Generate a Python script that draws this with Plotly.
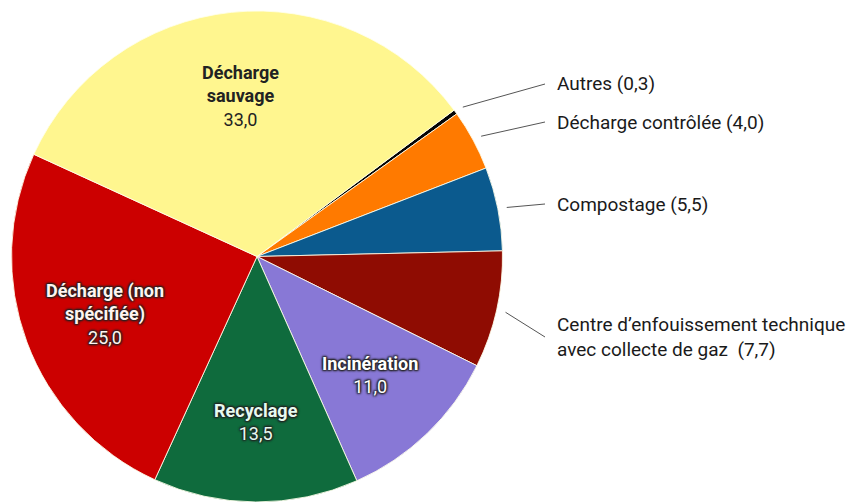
import math
import plotly.graph_objects as go

# ---- data ----
categories = [
    "Autres",
    "Décharge contrôlée",
    "Compostage",
    "Centre d’enfouissement technique avec collecte de gaz",
    "Incinération",
    "Recyclage",
    "Décharge (non spécifiée)",
    "Décharge sauvage",
]
values = [0.3, 4.0, 5.5, 7.7, 11.0, 13.5, 25.0, 33.0]
colors = ["#050505", "#ff7a00", "#0b5a8e", "#8f0c02", "#8878d6", "#0f6b3d", "#cc0000", "#fff68f"]

inside_labels = {
    4: "<b>Incinération</b><br>11,0",
    5: "<b>Recyclage</b><br>13,5",
    6: "<b>Décharge (non<br>spécifiée)</b><br>25,0",
    7: "<b>Décharge<br>sauvage</b><br>33,0",
}
inside_colors = {4: "#ffffff", 5: "#e6faf0", 6: "#fff4f0", 7: "#222222"}
outside_labels = {
    0: "Autres (0,3)",
    1: "Décharge contrôlée (4,0)",
    2: "Compostage (5,5)",
    3: "Centre d’enfouissement technique<br>avec collecte de gaz  (7,7)",
}
outside_text_pos = {0: (555, 84), 1: (555, 122), 2: (555, 204), 3: (555, 337)}

# ---- geometry ----
W, H = 853, 502
ROT = 53.4
CX, CY, R = 257, 257, 246
dom_x = [(CX - R) / W, (CX + R) / W]
dom_y = [max(0.0, 1 - (CY + R) / H), 1 - (CY - R) / H]


def paper(x, y):
    return x / W, 1 - y / H


total = sum(values)
mids = []
acc = 0.0
for v in values:
    mids.append(ROT + (acc + v / 2) / total * 360)
    acc += v


def polar(theta_deg, r):
    t = math.radians(theta_deg)
    return CX + r * math.sin(t), CY - r * math.cos(t)


fig = go.Figure(
    go.Pie(
        labels=categories,
        values=values,
        sort=False,
        direction="clockwise",
        rotation=ROT,
        marker=dict(colors=colors, line=dict(color="rgba(255,255,235,0.85)", width=1)),
        textinfo="none",
        hoverinfo="label+value",
        domain=dict(x=dom_x, y=dom_y),
        showlegend=False,
    )
)

inside_r = {4: 0.665, 5: 0.67, 6: 0.66, 7: 0.66}
annotations = []
for i, txt in inside_labels.items():
    x, y = polar(mids[i], inside_r[i] * R)
    px_, py_ = paper(x, y)
    shadow = "none" if i == 7 else "1px 1px 2px #222, -1px -1px 2px #222, 1px -1px 2px #222, -1px 1px 2px #222"
    annotations.append(dict(
        x=px_, y=py_, xref="paper", yref="paper", text=txt, showarrow=False,
        xanchor="center", yanchor="middle", align="center",
        font=dict(family="Roboto, Arial", size=18, color=inside_colors[i], shadow=shadow),
    ))

shapes = []
for i, txt in outside_labels.items():
    tx, ty = outside_text_pos[i]
    px_, py_ = paper(tx, ty)
    annotations.append(dict(
        x=px_, y=py_, xref="paper", yref="paper", text=txt, showarrow=False,
        xanchor="left", yanchor="middle", align="left",
        font=dict(family="Roboto, Arial", size=19, color="#1a1a1a"),
    ))
    sx, sy = polar(mids[i], 1.035 * R)
    x0, y0 = paper(sx, sy)
    x1, y1 = paper(tx - 10, ty)
    shapes.append(dict(type="line", xref="paper", yref="paper", x0=x0, y0=y0, x1=x1, y1=y1,
                       line=dict(color="#555555", width=1)))

fig.update_layout(
    width=W, height=H,
    margin=dict(l=0, r=0, t=0, b=0),
    paper_bgcolor="white",
    plot_bgcolor="white",
    annotations=annotations,
    shapes=shapes,
    font=dict(family="Roboto, Arial"),
)

fig.write_html(
    "out.html",
    config={"displayModeBar": False},
    post_script="document.body.style.margin='0';document.body.style.overflow='hidden';",
)
